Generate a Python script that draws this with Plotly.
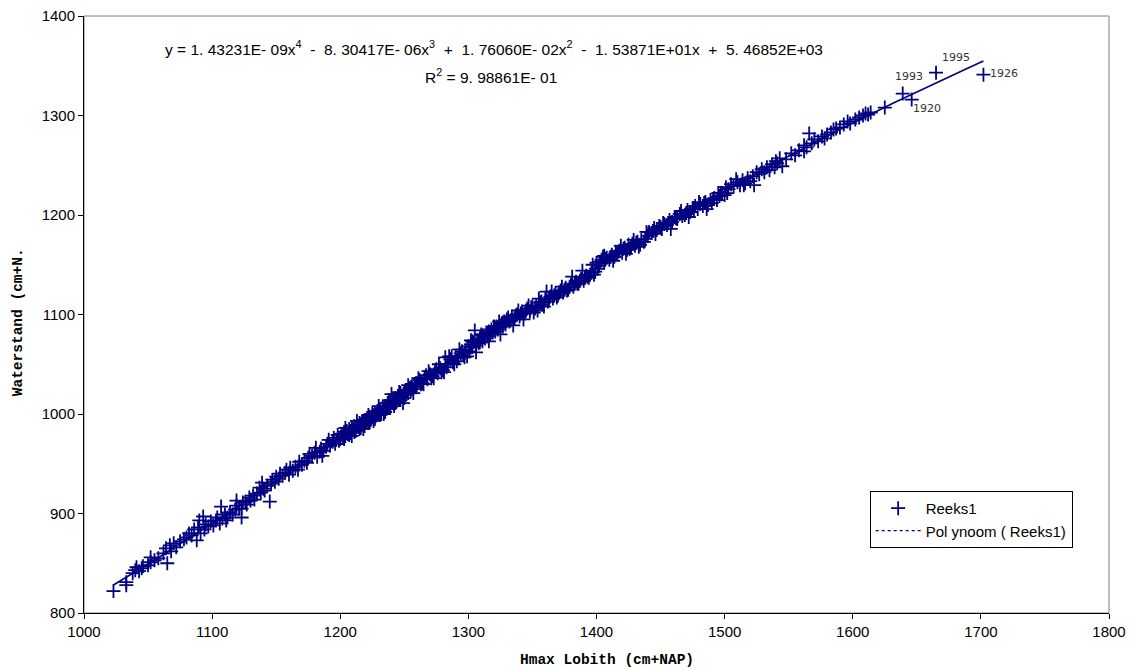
import numpy as np
import plotly.graph_objects as go

# ---- data ----
hmax_lobith = [
    1023, 1033, 1033, 1038, 1040, 1041, 1043, 1045, 1046, 1050, 1052, 1052, 1055, 1058, 1062, 1065, 1064, 1067,
    1068, 1070, 1072, 1075, 1078, 1080, 1082, 1084, 1086, 1088, 1089, 1090, 1091, 1093, 1094, 1095, 1097, 1099,
    1101, 1103, 1104, 1106, 1107, 1108, 1110, 1111, 1112, 1114, 1116, 1118, 1119, 1119, 1121, 1123, 1123, 1124,
    1126, 1127, 1129, 1130, 1132, 1133, 1135, 1137, 1138, 1139, 1140, 1141, 1143, 1145, 1146, 1147, 1149, 1150,
    1152, 1153, 1155, 1157, 1158, 1160, 1161, 1163, 1165, 1167, 1168, 1170, 1172, 1174, 1175, 1176, 1178, 1180,
    1182, 1184, 1185, 1187, 1189, 1190, 1192, 1194, 1195, 1197, 1198, 1199,
    1200, 1201, 1202, 1203, 1204, 1205, 1206, 1207, 1208, 1209, 1210, 1211, 1212, 1213, 1214, 1215, 1216, 1217,
    1218, 1219, 1220, 1221, 1222, 1223, 1224, 1225, 1226, 1227, 1228, 1229, 1230, 1231, 1232, 1233, 1234, 1235,
    1236, 1237, 1238, 1239, 1240, 1241, 1242, 1243, 1244, 1245, 1246, 1247, 1248, 1249, 1250, 1251, 1252, 1253,
    1254, 1255, 1256, 1257, 1258, 1259, 1260, 1262, 1264, 1266, 1268, 1270, 1272, 1274, 1276, 1278, 1280, 1282,
    1284, 1286, 1288, 1290, 1292, 1294, 1296, 1298, 1299,
    1203, 1207, 1211, 1215, 1219, 1223, 1227, 1231, 1235, 1239, 1243, 1247, 1251, 1255, 1259, 1263, 1267, 1271,
    1275, 1279, 1283, 1287, 1291, 1295, 1297,
    1181, 1186, 1191, 1196, 1204, 1209, 1213, 1218, 1222, 1226, 1230, 1234, 1238, 1242, 1246, 1250, 1253, 1257,
    1261, 1265, 1269, 1273, 1277, 1281, 1285, 1289, 1293, 1297,
    1300, 1301, 1302, 1303, 1304, 1305, 1306, 1307, 1308, 1309, 1310, 1311, 1312, 1313, 1314, 1315, 1316, 1317,
    1318, 1319, 1320, 1321, 1322, 1323, 1324, 1325, 1326, 1327, 1328, 1329, 1330, 1332, 1334, 1336, 1338, 1340,
    1342, 1344, 1346, 1348, 1350, 1352, 1354, 1356, 1358, 1360, 1361, 1362, 1364, 1366, 1368, 1370, 1372, 1374,
    1376, 1378, 1380, 1382, 1384, 1386, 1388, 1390, 1392, 1394, 1396, 1398,
    1303, 1309, 1315, 1321, 1327, 1333, 1337, 1341, 1345, 1349, 1353, 1357, 1363, 1367, 1371, 1375, 1379, 1383,
    1387, 1391, 1395, 1399,
    1302, 1306, 1311, 1316, 1320, 1325, 1331, 1335, 1339, 1343, 1347, 1351, 1355, 1359, 1365, 1369, 1373, 1377,
    1381, 1385, 1389, 1393, 1397, 1401, 1406, 1413, 1419, 1423, 1429, 1433, 1439, 1446,
    1400, 1402, 1404, 1405, 1406, 1408, 1410, 1412, 1414, 1415, 1416, 1418, 1420, 1422, 1424, 1425, 1426, 1428,
    1430, 1432, 1434, 1435, 1437, 1440, 1441, 1443, 1445, 1447, 1449, 1451, 1453, 1455, 1457, 1459, 1461, 1463,
    1465, 1467, 1469, 1471, 1473, 1475, 1477, 1479, 1481, 1483, 1485, 1487, 1489, 1490, 1492, 1494, 1496, 1498,
    1500,
    1403, 1407, 1411, 1417, 1421, 1427, 1431, 1438, 1444, 1450, 1456, 1462, 1470, 1476, 1484, 1491, 1497,
    1452, 1458, 1466, 1472, 1480, 1486, 1495, 1502, 1509, 1515,
    1501, 1503, 1505, 1507, 1510, 1512, 1514, 1516, 1518, 1520, 1522, 1523, 1525, 1527, 1529, 1531, 1533, 1535,
    1537, 1539, 1540, 1541, 1543, 1545, 1548, 1552, 1555, 1558, 1562, 1562, 1564, 1566, 1568, 1570, 1573, 1576,
    1578, 1580, 1583, 1585, 1587, 1590, 1593, 1596, 1598,
    1602, 1605, 1608, 1610, 1612, 1614, 1625, 1639, 1646, 1665, 1702,
]
waterstand = [
    822, 831, 828, 840, 843, 846, 842, 845, 847, 848, 851, 856, 853, 855, 860, 850, 865, 868,
    862, 870, 866, 872, 874, 876, 880, 878, 884, 873, 886, 893, 880, 897, 884, 889, 887, 892,
    888, 893, 896, 890, 907, 895, 899, 893, 896, 901, 899, 904, 908, 913, 905, 896, 905, 911,
    912, 909, 916, 913, 918, 914, 920, 926, 921, 931, 925, 923, 928, 912, 930, 934, 932, 937,
    935, 940, 938, 941, 944, 939, 946, 943, 947, 944, 952, 949, 953, 951, 956, 960, 958, 961,
    957, 962, 965, 963, 967, 970, 968, 972, 976, 974, 979, 973,
    975, 980, 976, 982, 978, 983, 980, 985, 981, 986, 984, 988, 983, 989, 987, 991, 986, 992,
    990, 994, 992, 996, 991, 997, 995, 1000, 996, 1001, 999, 1003, 1001, 1005, 1000, 1006, 1004, 1008,
    1005, 1011, 1007, 1012, 1020, 1014, 1010, 1016, 1013, 1018, 1015, 1021, 1017, 1011, 1022, 1019, 1024, 1021,
    1026, 1023, 1028, 1025, 1030, 1027, 1031, 1034, 1031, 1037, 1035, 1040, 1038, 1043, 1041, 1046, 1044, 1057,
    1050, 1055, 1052, 1058, 1056, 1061, 1059, 1064, 1058,
    975, 979, 982, 985, 988, 992, 995, 999, 1002, 1006, 1011, 1014, 1024, 1027, 1031, 1030, 1039, 1036,
    1045, 1042, 1047, 1058, 1053, 1063, 1057,
    966, 958, 974, 970, 986, 978, 993, 985, 999, 993, 1008, 1000, 1014, 1008, 1022, 1016, 1029, 1021,
    1036, 1030, 1043, 1036, 1050, 1042, 1058, 1050, 1065, 1061,
    1068, 1063, 1070, 1067, 1072, 1084, 1069, 1074, 1071, 1076, 1080, 1073, 1079, 1076, 1082, 1078, 1083, 1080,
    1085, 1082, 1087, 1083, 1088, 1085, 1093, 1087, 1091, 1088, 1093, 1090, 1095, 1093, 1098, 1096, 1100, 1098,
    1103, 1101, 1106, 1103, 1108, 1106, 1104, 1112, 1110, 1115, 1123, 1113, 1118, 1116, 1121, 1119, 1124, 1122,
    1127, 1125, 1130, 1128, 1133, 1131, 1136, 1134, 1139, 1137, 1142, 1140,
    1073, 1072, 1081, 1086, 1092, 1094, 1099, 1101, 1104, 1107, 1109, 1113, 1116, 1119, 1122, 1125, 1128, 1131,
    1134, 1137, 1140, 1143,
    1074, 1062, 1079, 1073, 1088, 1080, 1097, 1089, 1104, 1095, 1109, 1102, 1116, 1108, 1123, 1117, 1128, 1124,
    1138, 1131, 1144, 1138, 1150, 1146, 1159, 1154, 1169, 1161, 1175, 1168, 1183, 1181,
    1152, 1149, 1155, 1158, 1152, 1157, 1155, 1160, 1158, 1163, 1161, 1164, 1162, 1167, 1165, 1170, 1166, 1171,
    1169, 1173, 1170, 1175, 1173, 1179, 1183, 1182, 1187, 1185, 1189, 1186, 1191, 1190, 1195, 1193, 1198, 1196,
    1201, 1199, 1200, 1205, 1203, 1207, 1209, 1206, 1211, 1209, 1213, 1210, 1215, 1212, 1217, 1215, 1219, 1222,
    1220,
    1153, 1156, 1158, 1163, 1166, 1168, 1172, 1176, 1184, 1188, 1192, 1197, 1202, 1206, 1212, 1216, 1222,
    1192, 1186, 1204, 1198, 1213, 1206, 1222, 1222, 1236, 1230,
    1228, 1226, 1231, 1229, 1233, 1230, 1235, 1232, 1237, 1234, 1239, 1230, 1243, 1241, 1246, 1243, 1248, 1245,
    1251, 1248, 1254, 1252, 1257, 1249, 1256, 1262, 1260, 1265, 1264, 1270, 1268, 1282, 1272, 1276, 1274, 1279,
    1277, 1281, 1283, 1286, 1287, 1288, 1291, 1294, 1292,
    1296, 1298, 1300, 1302, 1301, 1303, 1308, 1322, 1316, 1343, 1341,
]

# labelled years
year_labels = ["1993", "1920", "1995", "1926"]
year_x = [1639, 1646, 1665, 1702]
year_y = [1322, 1316, 1343, 1341]

x_ticks = [1000, 1100, 1200, 1300, 1400, 1500, 1600, 1700, 1800]
y_ticks = [800, 900, 1000, 1100, 1200, 1300, 1400]

NAVY = "#000080"

fig = go.Figure()

fig.add_trace(go.Scatter(
    x=hmax_lobith, y=waterstand, mode="markers", name="Reeks1",
    marker=dict(symbol="cross-thin", size=10, color=NAVY,
                line=dict(color=NAVY, width=1.8)),
))

# 4th-order polynomial trend line fitted to the series (as in the original chart)
trend = np.polynomial.Polynomial.fit(hmax_lobith, waterstand, 4)
xs = np.linspace(min(hmax_lobith), max(hmax_lobith), 200)
ys = trend(xs)
fig.add_trace(go.Scatter(
    x=xs, y=ys, mode="lines", showlegend=False,
    line=dict(color=NAVY, width=1.6),
))
# legend entry for the trend line
fig.add_trace(go.Scatter(
    x=[None], y=[None], mode="lines", name="Pol ynoom ( Reeks1)",
    line=dict(color=NAVY, width=1.2, dash="3px,3px"),
))

annotations = []
offsets = {"1993": (6, 17), "1920": (15, -9), "1995": (20, 15), "1926": (21, 1)}
for lab, xv, yv in zip(year_labels, year_x, year_y):
    dx, dy = offsets[lab]
    annotations.append(dict(
        x=xv, y=yv, xref="x", yref="y", text=lab, showarrow=False,
        xshift=dx, yshift=dy, font=dict(family="DejaVu Sans", size=11, color="#333333"),
    ))

eq_font = dict(family="Liberation Sans, Arial", size=15.5, color="black")
annotations.append(dict(
    x=0.40, y=0.946, xref="paper", yref="paper", showarrow=False,
    text="y = 1. 43231E- 09x<sup>4</sup>\u00a0 - \u00a08. 30417E- 06x<sup>3</sup>\u00a0 + \u00a01. 76060E- 02x<sup>2</sup>\u00a0 - \u00a01. 53871E+01x\u00a0 + \u00a05. 46852E+03",
    font=eq_font, xanchor="center", yanchor="middle",
))
annotations.append(dict(
    x=0.397, y=0.900, xref="paper", yref="paper", showarrow=False,
    text="R<sup>2</sup> = 9. 98861E- 01", font=eq_font, xanchor="center", yanchor="middle",
))
title_font = dict(family="Liberation Mono, Courier New", size=14.5, color="black")
annotations.append(dict(
    x=0.5102, y=-0.0787, xref="paper", yref="paper", showarrow=False,
    text="<b>Hmax Lobith (cm+NAP)</b>", font=title_font, xanchor="center", yanchor="middle",
))
annotations.append(dict(
    x=-0.0644, y=0.487, xref="paper", yref="paper", showarrow=False, textangle=-90,
    text="<b>Waterstand (cm+N.</b>", font=title_font, xanchor="center", yanchor="middle",
))

axis_common = dict(
    showgrid=False, zeroline=False, showline=True, linecolor="black", linewidth=1,
    ticks="outside", ticklen=5, tickcolor="black", tickwidth=1, automargin=False,
    tickfont=dict(family="Liberation Sans, Arial", size=15, color="black"),
)

fig.update_layout(
    width=1130, height=670,
    margin=dict(l=84, r=21, t=16, b=57),
    paper_bgcolor="white", plot_bgcolor="white",
    hovermode=False,
    xaxis=dict(range=[1000, 1800], tickvals=x_ticks, **axis_common),
    yaxis=dict(range=[800, 1400], tickvals=y_ticks, **axis_common),
    shapes=[dict(type="rect", xref="paper", yref="paper", x0=0, y0=0, x1=1, y1=1,
                 line=dict(color="#808080", width=1), layer="below")],
    annotations=annotations,
    legend=dict(
        x=0.7665, y=0.2044, xanchor="left", yanchor="top",
        bgcolor="white", bordercolor="black", borderwidth=1,
        font=dict(family="Liberation Sans, Arial", size=15, color="black"),
        itemwidth=45, tracegroupgap=4,
    ),
    showlegend=True,
)

# pin the 1130x670 figure to the window's top-left corner (no default page margin)
post = ("document.body.style.margin='0';"
        "var gd=document.getElementById('{plot_id}');"
        "gd.style.position='fixed';gd.style.left='0px';gd.style.top='0px';")
fig.write_html("out.html", post_script=post, config={"displayModeBar": False})
